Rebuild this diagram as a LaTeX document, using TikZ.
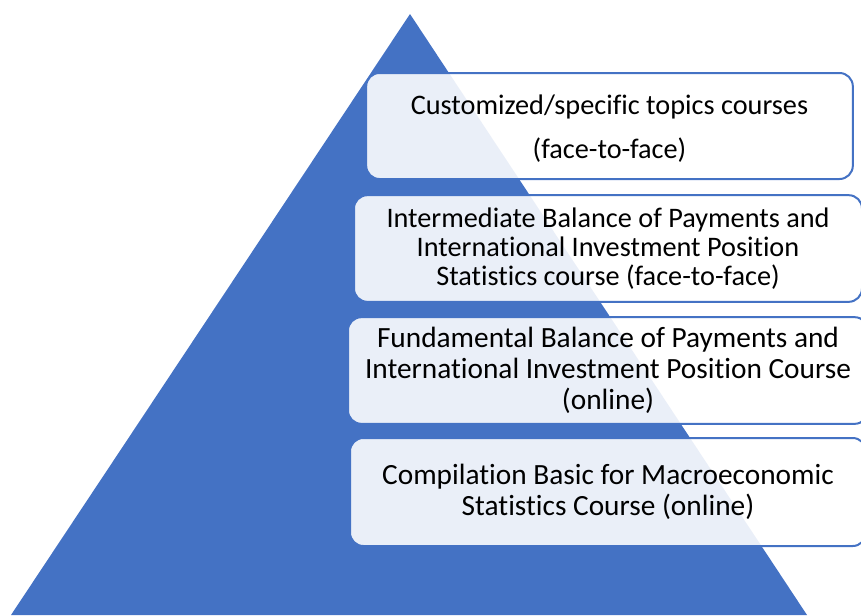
\documentclass[tikz,border=0pt]{standalone}
\usepackage{fontspec}
\setmainfont{Carlito}[Ligatures=NoCommon]
\usepackage{tikz}
\usetikzlibrary{positioning}
\definecolor{pyrblue}{HTML}{4472C4}

\begin{document}
\begin{tikzpicture}[x=0.75pt,y=-0.75pt,
level/.style={draw=pyrblue,line width=1.5pt,fill=white,fill opacity=0.89,text opacity=1,
  rounded corners=10pt,align=center,inner sep=0pt,
  font=\fontsize{21.2}{21.6}\selectfont},
wide level/.style={level,font=\fontsize{22}{23.5}\selectfont},]
\useasboundingbox (0,0) rectangle (861,615);
\fill[pyrblue] (410,14) coordinate (apex) -- (807,615) coordinate (baseR) -- (11,615) coordinate (baseL) -- cycle;
\node[level,minimum width=365pt,minimum height=79.5pt] (custom) at (609.5,126)
  {\rule{0pt}{19pt}Customized/specific topics courses\\[11.5pt](face-to-face)};
\node[level,minimum width=381pt,minimum height=80pt] (inter) at (608,248.5)
  {Intermediate Balance of Payments and\\International Investment Position\\Statistics course (face-to-face)};
\node[wide level,minimum width=390pt,minimum height=80pt] (fund) at (608,370.5)
  {Fundamental Balance of Payments and\\International Investment Position Course\\(online)};
\node[wide level,minimum width=387pt,minimum height=81pt] (basic) at (608,492)
  {Compilation Basic for Macroeconomic\\Statistics Course (online)};
\end{tikzpicture}
\end{document}
